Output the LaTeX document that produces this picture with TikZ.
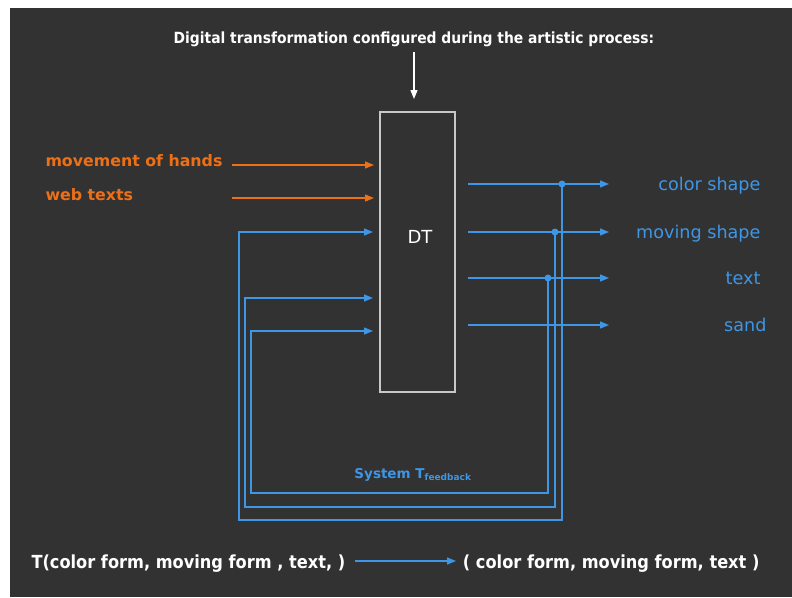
\documentclass[tikz,border=0pt]{standalone}
\usepackage{fontspec}
\setmainfont{DejaVu Sans}
\newfontfamily\condfont{DejaVu Sans Condensed}
\usetikzlibrary{arrows.meta}
\definecolor{bgdark}{RGB}{50,50,50}
\definecolor{lineblue}{RGB}{62,150,230}
\definecolor{handorange}{RGB}{238,112,22}
\definecolor{boxgray}{RGB}{200,200,200}

\begin{document}
\begin{tikzpicture}[
        x = 1pt, y = -1pt,
        flow/.style = {
            draw = #1,
            line width = 1.3pt,
            -{Triangle[length=9pt, width=7pt]}
        },
        flow/.default = lineblue,
        junction/.style = {
            circle,
            fill = lineblue,
            minimum size = 7pt,
            inner sep = 0pt,
            outer sep = 0pt
        },
        inlabel/.style = {anchor=base west, text=handorange, font=\bfseries\fontsize{15.8}{18}\selectfont},
        outlabel/.style = {anchor=base east, text=lineblue, font=\fontsize{17.6}{20}\selectfont},
        headline/.style = {text=white, font=\condfont\bfseries\fontsize{#1}{20}\selectfont},
        headline/.default = 15.4
    ]
    \fill[bgdark] (10,8) rectangle (792,597);
    \useasboundingbox (0,0) rectangle (792,597);

    % transformation box and its configuration
    \node[draw=boxgray, line width=1.3pt, minimum width=75pt, minimum height=280pt, inner sep=0pt] (dt) at (417.5,252) {};
    \node[text=white, font=\fontsize{18}{20}\selectfont] (dtlabel) at (420,237) {DT};
    \node[headline, anchor=base] (title) at (414,43) {Digital transformation configured during the artistic process:};
    \coordinate (cfgstart) at (414,52);
    \coordinate (cfgend) at (414,99);
    \draw[flow=white] (cfgstart) -- (cfgend);

    % inputs from outside
    \node[inlabel] (hands) at (42,166) {movement of hands};
    \node[inlabel] (web) at (42,200) {web texts};
    \coordinate (handsA) at (232,165);
    \coordinate (handsB) at (374,165);
    \coordinate (webA) at (232,198);
    \coordinate (webB) at (374,198);
    \draw[flow=handorange] (handsA) -- (handsB);
    \draw[flow=handorange] (webA) -- (webB);

    % outputs
    \foreach \n/\y/\xl/\lab in {1/184/764/color shape, 2/232/764/moving shape, 3/278/764/text, 4/325/770/sand}{
        \coordinate (out\n A) at (468,\y);
        \coordinate (out\n B) at (609,\y);
        \draw[flow] (out\n A) -- (out\n B);
        \node[outlabel] (outlab\n) at (\xl,\y+6) {\lab};
    }

    % feedback loops
    \node[junction] (j1) at (562,184) {};
    \node[junction] (j2) at (555,232) {};
    \node[junction] (j3) at (548,278) {};
    \coordinate (back1) at (239,520);
    \coordinate (back2) at (245,507);
    \coordinate (back3) at (251,493);
    \coordinate (in1) at (373,232);
    \coordinate (in2) at (373,298);
    \coordinate (in3) at (373,331);
    \draw[flow] (j1.center) |- (back1) |- (in1);
    \draw[flow] (j2.center) |- (back2) |- (in2);
    \draw[flow] (j3.center) |- (back3) |- (in3);
    \node[anchor=base, text=lineblue, font=\bfseries\fontsize{13.5}{15}\selectfont] (feedback) at (413,478) {System T\textsubscript{\fontsize{9}{10}\selectfont feedback}};

    % summary line
    \node[headline=18, anchor=base west] (tleft) at (28,568) {T(color form, moving form , text, )};
    \node[headline=18, anchor=base east] (tright) at (763,568) {( color form, moving form, text )};
    \coordinate (sumA) at (355,561);
    \coordinate (sumB) at (456,561);
    \draw[flow] (sumA) -- (sumB);
\end{tikzpicture}
\end{document}
